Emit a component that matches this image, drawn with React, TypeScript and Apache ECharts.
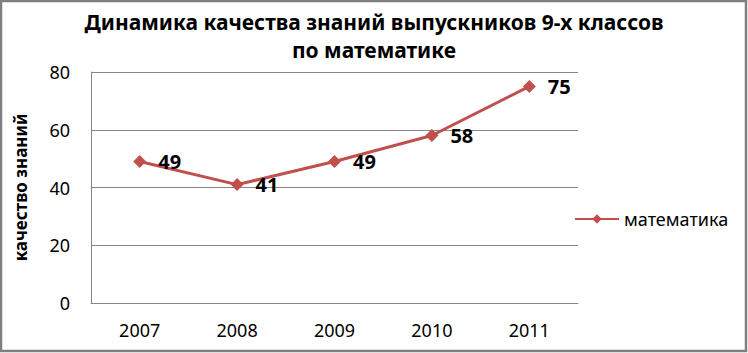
import React, { useEffect, useRef } from "react";
import * as echarts from "echarts";

const categories = ["2007", "2008", "2009", "2010", "2011"];
const values = [49, 41, 49, 58, 75];
const seriesName = "математика";
const titleText = "Динамика качества знаний выпускников 9-х классов\nпо математике";
const yAxisName = "качество знаний";

const FONT = "'Noto Sans', 'Open Sans', sans-serif";

export default function App() {
  const ref = useRef<HTMLDivElement>(null);
  useEffect(() => {
    document.body.style.margin = "0";
    const chart = echarts.init(ref.current!, null, { renderer: "svg" });
    chart.setOption({
      animation: false,
      backgroundColor: "#ffffff",
      textStyle: { fontFamily: FONT },
      title: {
        text: titleText,
        left: "center",
        top: 3,
        textStyle: {
          fontFamily: FONT,
          fontSize: 21,
          fontWeight: "bold",
          color: "#000",
          lineHeight: 28,
        },
      },
      graphic: [
        {
          type: "rect",
          shape: { x: 1, y: 1, width: 745, height: 350 },
          style: { fill: "none", stroke: "#7f7f7f", lineWidth: 2.5 },
          silent: true,
        },
      ],
      legend: {
        data: [seriesName],
        left: 569,
        top: 205,
        orient: "vertical",
        itemWidth: 44,
        itemHeight: 12,
        itemGap: 4,
        textStyle: { fontFamily: FONT, fontSize: 18, color: "#000" },
      },
      grid: { left: 91, top: 72, right: 170, bottom: 50 },
      xAxis: {
        type: "category",
        data: categories,
        boundaryGap: true,
        axisLine: { show: true, lineStyle: { color: "#868686", width: 1 } },
        axisTick: { show: false },
        axisLabel: { color: "#000", fontSize: 18, margin: 18, fontFamily: FONT },
      },
      yAxis: {
        type: "value",
        min: 0,
        max: 80,
        interval: 20,
        name: yAxisName,
        nameLocation: "middle",
        nameRotate: 90,
        nameGap: 62,
        nameTextStyle: { fontFamily: FONT, fontSize: 17, fontWeight: "bold", color: "#000" },
        axisLine: { show: true, lineStyle: { color: "#868686", width: 1 } },
        axisTick: { show: false },
        axisLabel: { color: "#000", fontSize: 18, margin: 21, fontFamily: FONT },
        splitLine: { show: true, lineStyle: { color: "#868686", width: 1 } },
      },
      series: [
        {
          name: seriesName,
          type: "line",
          data: values,
          symbol: "diamond",
          symbolSize: 13,
          itemStyle: { color: "#C0504D" },
          lineStyle: { color: "#C0504D", width: 3 },
          label: {
            show: true,
            position: "right",
            distance: 12,
            color: "#000",
            fontSize: 20,
            fontWeight: "bold",
            fontFamily: FONT,
          },
        },
      ],
    });
    return () => chart.dispose();
  }, []);
  return <div ref={ref} style={{ width: 748, height: 353 }} />;
}
